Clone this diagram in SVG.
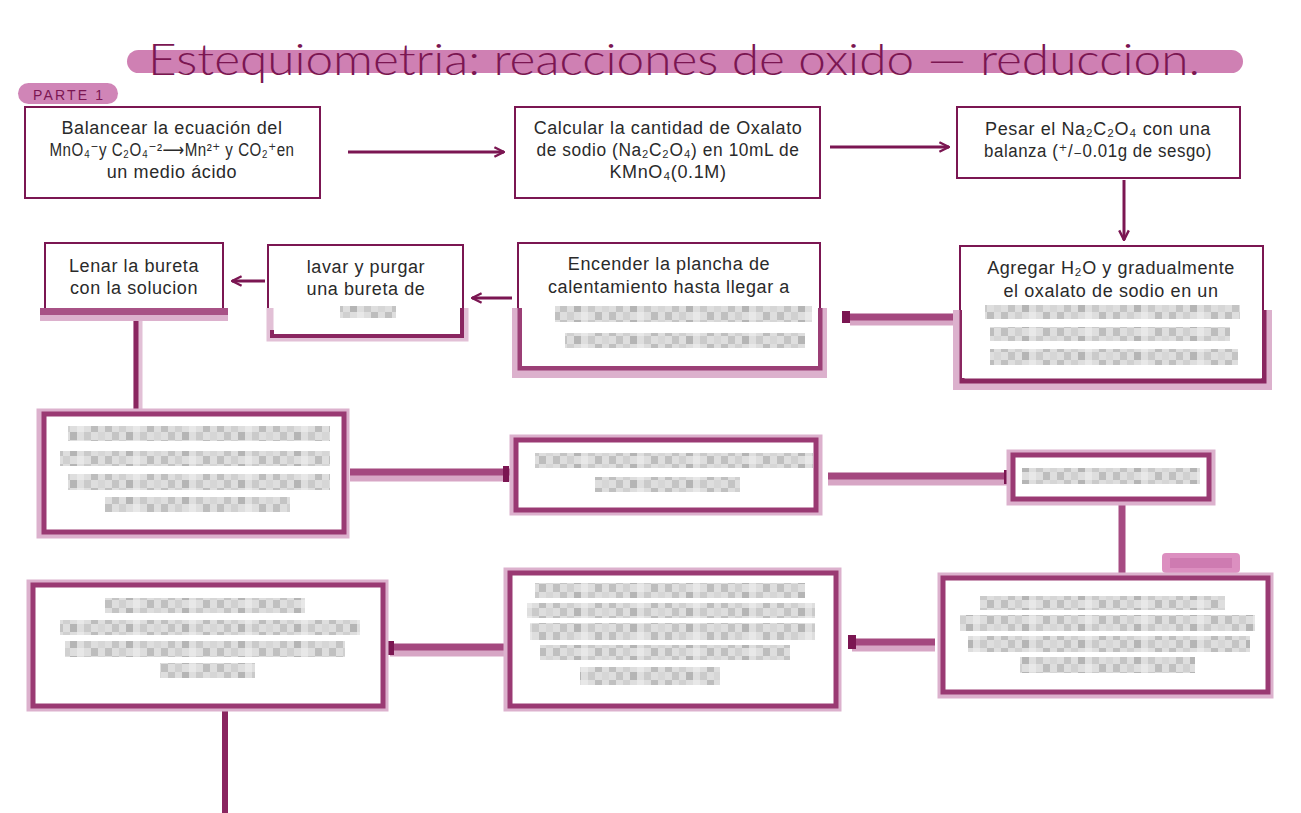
<svg xmlns="http://www.w3.org/2000/svg" width="1301" height="813" viewBox="0 0 1301 813">
<style>
.box{fill:#ffffff;stroke:#7b1652;stroke-width:2}
.pbox{fill:#ffffff;stroke:#9a3a73;stroke-width:5}
.halo{fill:none;stroke:#dcb1cd;stroke-width:11}
.t{font-family:"Liberation Sans","DejaVu Sans",sans-serif;font-size:18px;letter-spacing:0.6px;fill:#2a2a2a;text-anchor:middle}
.title{font-family:"Lato","Liberation Sans",sans-serif;font-weight:300;font-size:44px;fill:#7b1652}
.arr{stroke:#7b1652;stroke-width:3;fill:none}
.thick{stroke:#a4487f;stroke-width:7;fill:none}
.thickl{stroke:#d7a6c5;stroke-width:11;fill:none}
.blur{fill:url(#pix)}
.knob{fill:#7b1652}
</style>
<defs>
<marker id="ah" viewBox="0 0 10 10" refX="9" refY="5" markerWidth="4" markerHeight="4" orient="auto-start-reverse">
<path d="M1,1 L9,5 L1,9" fill="none" stroke="#7b1652" stroke-width="2"/>
</marker>
<pattern id="pix" patternUnits="userSpaceOnUse" width="56" height="16">
<rect width="56" height="16" fill="#dedede"/>
<rect x="0" y="0" width="7" height="8" fill="#c4c4c4"/>
<rect x="7" y="8" width="7" height="8" fill="#d0d0d0"/>
<rect x="14" y="0" width="7" height="8" fill="#b5b5b5"/>
<rect x="21" y="8" width="7" height="8" fill="#e8e8e8"/>
<rect x="28" y="0" width="7" height="8" fill="#cacaca"/>
<rect x="35" y="8" width="7" height="8" fill="#bdbdbd"/>
<rect x="42" y="0" width="7" height="8" fill="#d6d6d6"/>
<rect x="49" y="8" width="7" height="8" fill="#c0c0c0"/>
</pattern>
</defs>
<rect width="1301" height="813" fill="#ffffff"/>

<g id="title">
<rect x="127" y="50" width="1116" height="23" rx="11.5" fill="#cf80b3"/>
<text class="title" x="148" y="75" textLength="1052" lengthAdjust="spacingAndGlyphs">Estequiometria: reacciones de oxido — reduccion.</text>
</g>

<g id="parte1">
<rect x="18" y="83" width="100" height="21" rx="10.5" fill="#d085b7"/>
<text x="33" y="100" font-family="Liberation Sans, sans-serif" font-size="14" fill="#7b1652" textLength="70">PARTE 1</text>
</g>

<g id="connectors">
<line class="arr" x1="348" y1="152" x2="504" y2="152" marker-end="url(#ah)"/>
<line class="arr" x1="830" y1="147" x2="949" y2="147" marker-end="url(#ah)"/>
<line class="arr" x1="1124" y1="180" x2="1124" y2="240" marker-end="url(#ah)"/>
<line class="arr" x1="512" y1="298" x2="472" y2="298" marker-end="url(#ah)"/>
<line class="arr" x1="265" y1="281" x2="232" y2="281" marker-end="url(#ah)"/>
<line class="thickl" x1="850" y1="320" x2="958" y2="320"/>
<line class="thick" x1="850" y1="317" x2="958" y2="317"/>
<rect class="knob" x="842" y="311" width="8" height="12"/>
<line x1="138" y1="318" x2="138" y2="410" stroke="#e2c0d6" stroke-width="9"/>
<line x1="136" y1="318" x2="136" y2="410" stroke="#8a2660" stroke-width="5"/>
<line class="thickl" x1="350" y1="476" x2="510" y2="476"/>
<line class="thick" x1="350" y1="472" x2="510" y2="472"/>
<rect class="knob" x="503" y="466" width="6" height="16"/>
<line class="thickl" x1="828" y1="480" x2="1010" y2="480"/>
<line class="thick" x1="828" y1="476" x2="1010" y2="476"/>
<rect class="knob" x="1004" y="470" width="7" height="14"/>
<line x1="1122" y1="503" x2="1122" y2="575" stroke="#a64b82" stroke-width="7"/>
<line class="thickl" x1="852" y1="646" x2="935" y2="646"/>
<line class="thick" x1="852" y1="642" x2="935" y2="642"/>
<rect class="knob" x="848" y="635" width="8" height="14"/>
<line class="thickl" x1="390" y1="651" x2="505" y2="651"/>
<line class="thick" x1="390" y1="647" x2="505" y2="647"/>
<rect class="knob" x="386" y="641" width="8" height="14"/>
<line x1="225" y1="708" x2="225" y2="813" stroke="#8a2660" stroke-width="6"/>
</g>

<g id="n1">
<rect class="box" x="25" y="107" width="295" height="91"/>
<text class="t" x="172" y="134">Balancear la ecuación del</text>
<text class="t" x="172" y="156" textLength="245" lengthAdjust="spacingAndGlyphs">MnO₄⁻y C₂O₄⁻²⟶Mn²⁺ y CO₂⁺en</text>
<text class="t" x="172" y="178">un medio ácido</text>
</g>

<g id="n2">
<rect class="box" x="515" y="107" width="305" height="91"/>
<text class="t" x="668" y="134">Calcular la cantidad de Oxalato</text>
<text class="t" x="668" y="156" textLength="263" lengthAdjust="spacingAndGlyphs">de sodio (Na₂C₂O₄) en 10mL de</text>
<text class="t" x="668" y="178">KMnO₄(0.1M)</text>
</g>

<g id="n3">
<rect class="box" x="957" y="107" width="283" height="71"/>
<text class="t" x="1098" y="135">Pesar el Na₂C₂O₄ con una</text>
<text class="t" x="1098" y="157" textLength="228" lengthAdjust="spacingAndGlyphs">balanza (⁺/₋0.01g de sesgo)</text>
</g>

<g id="n4">
<rect class="box" x="960" y="246" width="303" height="136"/>
<path d="M957,310 V386 H1268 V310" fill="none" stroke="#dcb1cd" stroke-width="8"/>
<path d="M962,310 V381 H1264 V310" fill="none" stroke="#8a2660" stroke-width="5"/>
<rect x="962" y="310" width="300" height="68" fill="#ffffff"/>
<text class="t" x="1111" y="274">Agregar H₂O y gradualmente</text>
<text class="t" x="1111" y="297">el oxalato de sodio en un</text>
<rect class="blur" x="985" y="305" width="255" height="14"/>
<rect class="blur" x="990" y="327" width="240" height="14"/>
<rect class="blur" x="990" y="349" width="248" height="16"/>
</g>

<g id="n5">
<rect class="box" x="518" y="243" width="302" height="127"/>
<path d="M516,308 V374 H823 V308" fill="none" stroke="#dcb1cd" stroke-width="8"/>
<path d="M520,308 V368 H820 V308" fill="none" stroke="#9b3f76" stroke-width="5"/>
<rect x="522" y="308" width="296" height="58" fill="#ffffff"/>
<text class="t" x="669" y="270">Encender la plancha de</text>
<text class="t" x="669" y="293">calentamiento hasta llegar a</text>
<rect class="blur" x="555" y="306" width="257" height="16"/>
<rect class="blur" x="565" y="333" width="240" height="15"/>
</g>

<g id="n6">
<rect class="box" x="268" y="245" width="195" height="92"/>
<path d="M270,308 V338 H465 V308" fill="none" stroke="#e2c0d6" stroke-width="7"/>
<path d="M272,330 V336 H462 V308" fill="none" stroke="#8a2660" stroke-width="4"/>
<rect x="274" y="308" width="186" height="24" fill="#ffffff"/>
<text class="t" x="366" y="273">lavar y purgar</text>
<text class="t" x="366" y="295">una bureta de</text>
<rect class="blur" x="340" y="306" width="56" height="12"/>
</g>

<g id="n7">
<rect class="box" x="45" y="243" width="178" height="68"/>
<rect x="40" y="308" width="188" height="7" fill="#a85286"/>
<rect x="40" y="315" width="188" height="6" fill="#dcb1cd"/>
<text class="t" x="134" y="272">Lenar la bureta</text>
<text class="t" x="134" y="294">con la solucion</text>
</g>

<g id="n8">
<rect class="halo" x="42" y="414" width="302" height="119"/>
<rect class="pbox" x="44" y="414" width="300" height="118"/>
<rect class="blur" x="68" y="426" width="262" height="15"/>
<rect class="blur" x="60" y="451" width="270" height="15"/>
<rect class="blur" x="68" y="474" width="262" height="16"/>
<rect class="blur" x="105" y="497" width="185" height="15"/>
</g>

<g id="n9">
<rect class="halo" x="515" y="440" width="302" height="70"/>
<rect class="pbox" x="516" y="440" width="300" height="70"/>
<rect class="blur" x="535" y="453" width="278" height="15"/>
<rect class="blur" x="595" y="477" width="145" height="15"/>
</g>

<g id="n10">
<rect class="halo" x="1012" y="455" width="198" height="45"/>
<rect class="pbox" x="1013" y="455" width="196" height="44"/>
<rect class="blur" x="1022" y="468" width="178" height="16"/>
</g>

<g id="parte2">
<rect x="1162" y="553" width="78" height="20" rx="4" fill="#dc8fc0"/>
<rect x="1170" y="558" width="62" height="10" fill="#c56ea6" opacity="0.6"/>
</g>

<g id="n11">
<rect class="halo" x="943" y="578" width="325" height="115"/>
<rect class="pbox" x="943" y="578" width="325" height="114"/>
<rect class="blur" x="980" y="596" width="245" height="14"/>
<rect class="blur" x="960" y="615" width="295" height="16"/>
<rect class="blur" x="968" y="636" width="282" height="16"/>
<rect class="blur" x="1020" y="657" width="175" height="16"/>
</g>

<g id="n12">
<rect class="halo" x="509" y="573" width="327" height="133"/>
<rect class="pbox" x="510" y="573" width="326" height="133"/>
<rect class="blur" x="535" y="583" width="270" height="15"/>
<rect class="blur" x="527" y="603" width="288" height="15"/>
<rect class="blur" x="530" y="623" width="285" height="17"/>
<rect class="blur" x="540" y="645" width="250" height="15"/>
<rect class="blur" x="580" y="667" width="140" height="18"/>
</g>

<g id="n13">
<rect class="halo" x="32" y="585" width="351" height="121"/>
<rect class="pbox" x="33" y="585" width="350" height="121"/>
<rect class="blur" x="105" y="598" width="200" height="15"/>
<rect class="blur" x="60" y="620" width="300" height="15"/>
<rect class="blur" x="65" y="641" width="280" height="16"/>
<rect class="blur" x="160" y="663" width="95" height="15"/>
</g>
</svg>
